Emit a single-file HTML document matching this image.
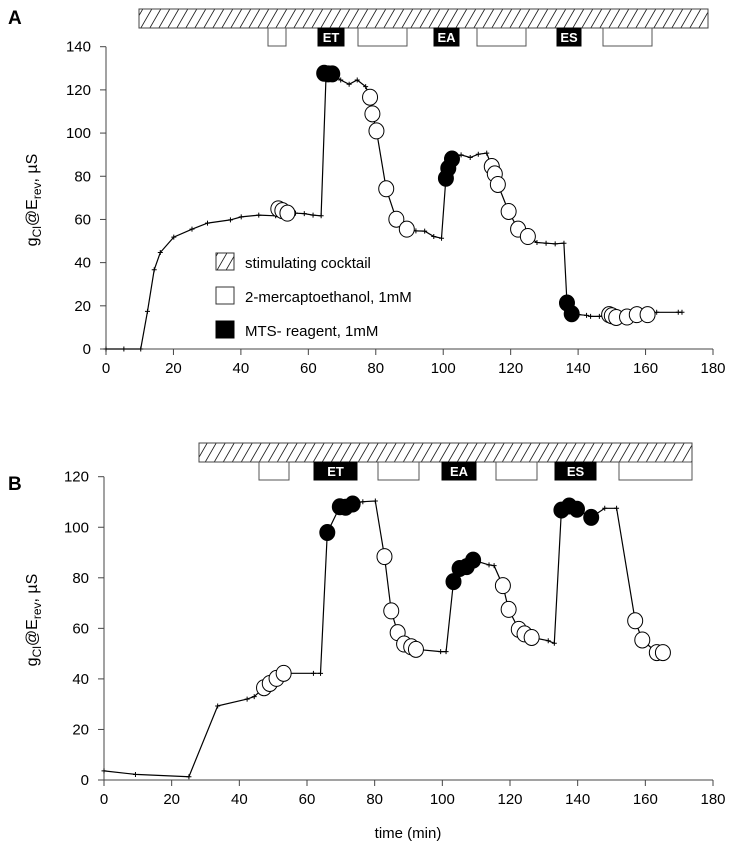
<!DOCTYPE html>
<html><head><meta charset="utf-8">
<style>
html,body{margin:0;padding:0;background:#fff;}
svg{display:block;font-family:"Liberation Sans",Arial,sans-serif;}
</style></head>
<body>
<svg id="chart" width="734" height="853" viewBox="0 0 734 853" xmlns="http://www.w3.org/2000/svg">
<defs>
<pattern id="hatch" patternUnits="userSpaceOnUse" width="9" height="9" patternTransform="skewX(-30)">
<rect width="9" height="9" fill="#fff"/>
<line x1="4" y1="0" x2="4" y2="9" stroke="#222" stroke-width="1"/>
</pattern>
</defs>
<g id="gA"></g>
<g id="gB"></g>
<text x="8" y="24" font-size="19" font-weight="bold">A</text>
<text x="8" y="490" font-size="19" font-weight="bold">B</text>
<text x="408" y="838" font-size="15" text-anchor="middle">time (min)</text>
<g>
<rect x="216" y="253" width="18" height="17" fill="url(#hatch)" stroke="#333"/>
<text x="245" y="268" font-size="15">stimulating cocktail</text>
<rect x="216" y="287" width="18" height="17" fill="#fff" stroke="#333"/>
<text x="245" y="302" font-size="15">2-mercaptoethanol, 1mM</text>
<rect x="216" y="321" width="18" height="17" fill="#000" stroke="#000"/>
<text x="245" y="336" font-size="15">MTS- reagent, 1mM</text>
</g>
</svg>
<script>
// Panel A data: time (min), conductance (µS), marker type (l=line point, o=open, f=filled)
const timesA=[0,5.3,10.3,12.3,14.3,16.1,20.1,25.5,30.1,36.9,40.1,45.3,50.3,51.1,52.3,53.8,56.2,58.8,61.4,63.8,65.2,64.7,65.9,67.1,69.6,72.1,74.5,77,78.3,79,80.2,83.1,86.1,89.2,91.9,94.5,97.2,99.5,100.8,101.5,102.6,105.3,108,110.4,112.9,114.4,115.3,116.2,119.4,122.2,125.1,127.8,130.5,133.2,135.8,136.7,138.1,140.2,142.5,143.7,146.3,149.2,150,151.3,154.5,157.4,160.6,163.3,169.7,170.8];
const valuesA=[0,0,0,17.4,36.7,44.7,51.8,55.5,58.3,59.8,61.2,62,61.7,64.9,64.1,62.9,62.9,62.7,62,61.7,124.6,127.7,127.4,127.4,124.6,122.6,124.6,121.5,116.6,108.9,101,74.2,60.1,55.5,54.7,54.6,52.1,51.3,79.1,83.7,88,89.9,88.7,90.2,90.7,84.5,81.1,76.2,63.7,55.5,52.1,49.3,49,48.7,49,21.3,16.3,15.9,15.6,15.1,15.1,15.9,15.4,14.6,14.8,15.9,15.9,17,17,17];
const markersA="lllllllllllll ooo lllll fff llll oooooo llll fff llll oooooo llll ff llll oooooo lll".replace(/ /g,"").split("");
// Panel B data
const timesB=[0,9.3,25.1,33.6,42.3,44.4,47.3,49,51,53.1,61.9,64,66,69.7,71.4,73.5,76.5,80.2,82.9,84.9,86.8,88.7,90.8,92.2,99.5,101.1,103.3,105.1,107.2,109.1,113.8,115.3,117.9,119.6,122.6,124.3,126.4,131.3,133.1,135.2,137.5,139.8,144,148,151.5,157,159.1,163.4,165.2];
const valuesB=[3.6,2.2,1.3,29.3,32,33,36.5,38.2,40.2,42.2,42.2,42.2,97.9,108.1,107.9,109.2,110.1,110.4,88.4,66.9,58.3,53.8,52.7,51.7,50.8,50.8,78.5,83.7,84.4,87,85.1,84.8,76.9,67.5,59.6,57.8,56.4,55.1,54.1,106.8,108.4,107.1,103.9,107.5,107.5,63,55.4,50.4,50.4];
const markersB="llllllooooll ffffll oooooo ll ffff ll ooooo ll ffff ll oooo".replace(/ /g,"").split("");
const xTicks=[0,20,40,60,80,100,120,140,160,180];
const yTicksA=[0,20,40,60,80,100,120,140];
const yTicksB=[0,20,40,60,80,100,120];
// treatment bars [start px, end px, type, label]
const barsA=[[268,286,"o",""],[318,344,"f","ET"],[358,407,"o",""],[434,459,"f","EA"],[477,526,"o",""],[557,581,"f","ES"],[603,652,"o",""]];
const barsB=[[259,289,"o",""],[314,357,"f","ET"],[378,419,"o",""],[442,476,"f","EA"],[496,537,"o",""],[555,596,"f","ES"],[619,692,"o",""]];

const NS="http://www.w3.org/2000/svg";
function mk(tag,attrs,parent){const e=document.createElementNS(NS,tag);for(const k in attrs)e.setAttribute(k,attrs[k]);parent.appendChild(e);return e;}

function panel(g,cfg,times,values,markers,yTicks,bars){
  const X=t=>cfg.x0+(t-0)/180*(cfg.x1-cfg.x0);
  const Y=v=>cfg.y0-(v/cfg.ymax)*(cfg.y0-cfg.y1);
  const hb=mk("rect",{x:cfg.hx0,y:cfg.hy0,width:cfg.hx1-cfg.hx0,height:cfg.hy1-cfg.hy0,fill:"url(#hatch)",stroke:"#444","stroke-width":1},g);
  
  
  bars.forEach(b=>{
    const r=mk("rect",{x:b[0],y:cfg.hy1,width:b[1]-b[0],height:cfg.by1-cfg.hy1,fill:b[2]==="f"?"#000":"#fff",stroke:b[2]==="f"?"#000":"#555","stroke-width":1},g);
    
    
    if(b[3]){
      const t=mk("text",{x:(b[0]+b[1])/2,y:cfg.by1-4,"font-size":13,"font-weight":"bold",fill:"#fff","text-anchor":"middle"},g);
      t.textContent=b[3];
      
      
    }
  });
  const ax=mk("line",{x1:cfg.x0,y1:cfg.y0,x2:cfg.x1,y2:cfg.y0,stroke:"#444","stroke-width":1},g);
  
  
  const ay=mk("line",{x1:cfg.x0,y1:cfg.y0,x2:cfg.x0,y2:Y(cfg.ymax),stroke:"#444","stroke-width":1},g);
  
  
  xTicks.forEach(t=>{
    mk("line",{x1:X(t),y1:cfg.y0,x2:X(t),y2:cfg.y0+6,stroke:"#444"},g);
    const l=mk("text",{x:X(t),y:cfg.y0+24,"font-size":15,"text-anchor":"middle"},g);
    l.textContent=t;
    
    
  });
  yTicks.forEach(v=>{
    mk("line",{x1:cfg.x0-6,y1:Y(v),x2:cfg.x0,y2:Y(v),stroke:"#444"},g);
    const l=mk("text",{x:cfg.x0-15,y:Y(v)+5,"font-size":15,"text-anchor":"end"},g);
    l.textContent=v;
    
    
  });
  const yt=mk("text",{transform:`translate(${cfg.ytx},${cfg.yty}) rotate(-90)`,"font-size":16,"text-anchor":"middle"},g);
  yt.innerHTML='g<tspan font-size="12" dy="4">Cl</tspan><tspan dy="-4">@E</tspan><tspan font-size="12" dy="4">rev</tspan><tspan dy="-4">, µS</tspan>';
  
  
  const pts=times.map((t,i)=>X(t).toFixed(1)+","+Y(values[i]).toFixed(1)).join(" ");
  const pl=mk("polyline",{points:pts,fill:"none",stroke:"#000","stroke-width":1.2},g);
  
  
  times.forEach((t,i)=>{
    const x=X(t),y=Y(values[i]);
    if(markers[i]==="l"){
      const p=mk("path",{d:`M${x-2.5},${y}H${x+2.5}M${x},${y-2.5}V${y+2.5}`,stroke:"#000","stroke-width":1},g);
      
      
    }
  });
  times.forEach((t,i)=>{
    const x=X(t),y=Y(values[i]);
    if(markers[i]!=="l"){
      const c=mk("ellipse",{cx:x,cy:y,rx:7.5,ry:8,fill:markers[i]==="f"?"#000":"#fff",stroke:"#000","stroke-width":1},g);
      
      
    }
  });
}
panel(document.getElementById("gA"),{x0:106,x1:713,y0:349,y1:46.7,ymax:140,hx0:139,hx1:708,hy0:9,hy1:28,by1:46,ytx:37,yty:200},timesA,valuesA,markersA,yTicksA,barsA);
panel(document.getElementById("gB"),{x0:104,x1:713,y0:780,y1:476.7,ymax:120,hx0:199,hx1:692,hy0:443,hy1:462,by1:480,ytx:37,yty:620},timesB,valuesB,markersB,yTicksB,barsB);
</script>
</body></html>
